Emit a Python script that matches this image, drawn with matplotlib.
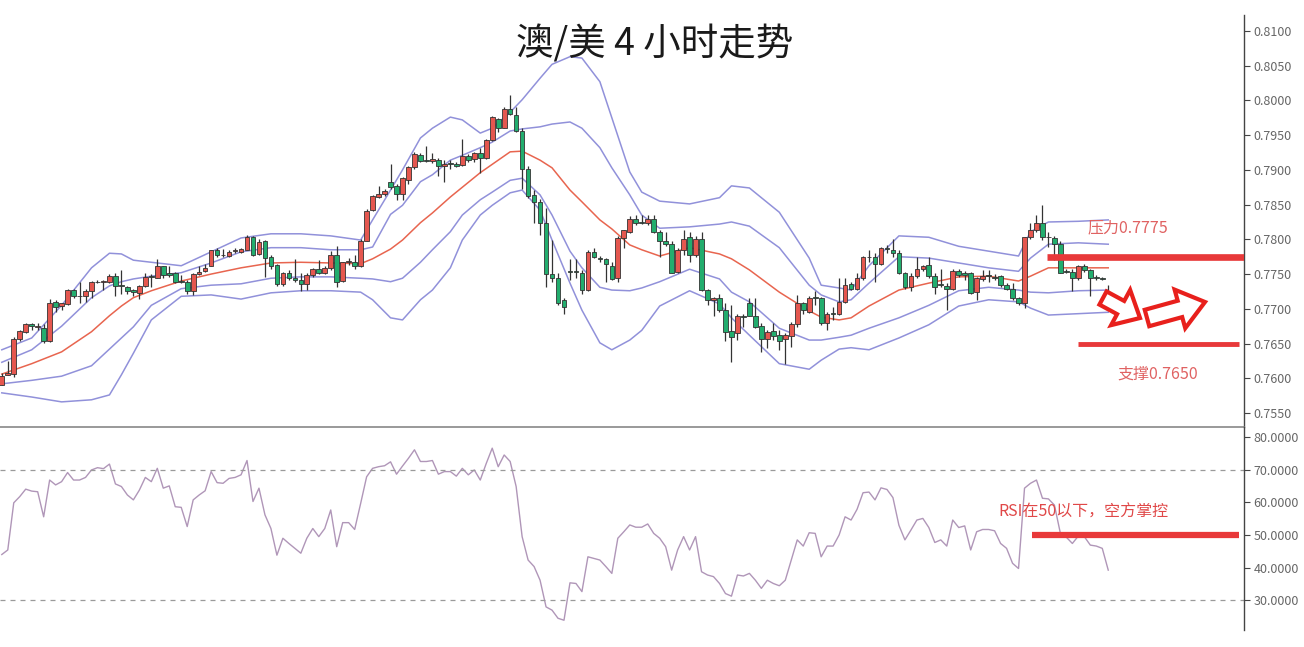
import numpy as np
import matplotlib
matplotlib.use("Agg")
import matplotlib.pyplot as plt
from matplotlib.patches import FancyArrow

plt.rcParams['font.family'] = ['Noto Sans CJK SC', 'DejaVu Sans']

# 4 hour AUD/USD candles
opens = [
    0.7591, 0.7605, 0.7606, 0.7657, 0.7667, 0.7678, 0.7674, 0.7673, 0.7654, 0.7710,
    0.7704, 0.7707, 0.7727, 0.7719, 0.7718, 0.7725, 0.7738, 0.7739, 0.7739, 0.7747,
    0.7734, 0.7731, 0.7727, 0.7723, 0.7733, 0.7747, 0.7745, 0.7761, 0.7751, 0.7751,
    0.7740, 0.7739, 0.7725, 0.7750, 0.7754, 0.7762, 0.7784, 0.7777, 0.7776, 0.7783,
    0.7782, 0.7785, 0.7804, 0.7779, 0.7797, 0.7775, 0.7763, 0.7735, 0.7752, 0.7744,
    0.7741, 0.7736, 0.7748, 0.7758, 0.7751, 0.7759, 0.7777, 0.7740, 0.7768, 0.7768,
    0.7761, 0.7798, 0.7842, 0.7861, 0.7865, 0.7883, 0.7877, 0.7866, 0.7885, 0.7904,
    0.7922, 0.7914, 0.7913, 0.7914, 0.7905, 0.7910, 0.7909, 0.7907, 0.7920, 0.7915,
    0.7924, 0.7917, 0.7943, 0.7973, 0.7961, 0.7987, 0.7979, 0.7956, 0.7902, 0.7864,
    0.7854, 0.7824, 0.7750, 0.7745, 0.7713, 0.7754, 0.7754, 0.7752, 0.7727, 0.7782,
    0.7773, 0.7771, 0.7762, 0.7744, 0.7802, 0.7810, 0.7829, 0.7825, 0.7823, 0.7830,
    0.7811, 0.7797, 0.7793, 0.7753, 0.7784, 0.7803, 0.7777, 0.7800, 0.7727, 0.7713,
    0.7715, 0.7698, 0.7668, 0.7665, 0.7689, 0.7708, 0.7690, 0.7675, 0.7657, 0.7668,
    0.7662, 0.7656, 0.7661, 0.7678, 0.7708, 0.7696, 0.7717, 0.7715, 0.7679, 0.7694,
    0.7693, 0.7710, 0.7736, 0.7729, 0.7744, 0.7775, 0.7774, 0.7764, 0.7787, 0.7785,
    0.7780, 0.7752, 0.7732, 0.7747, 0.7757, 0.7763, 0.7747, 0.7735, 0.7733, 0.7728,
    0.7755, 0.7751, 0.7751, 0.7724, 0.7743, 0.7748, 0.7746, 0.7747, 0.7734, 0.7728,
    0.7715, 0.7708, 0.7803, 0.7813, 0.7823, 0.7804, 0.7802, 0.7794, 0.7754, 0.7753,
    0.7744, 0.7761, 0.7756, 0.7746, 0.7744, 0.7723]
highs = [
    0.7607, 0.7625, 0.7659, 0.7669, 0.7679, 0.7679, 0.7679, 0.7678, 0.7714, 0.7713,
    0.7709, 0.7729, 0.7729, 0.7738, 0.7729, 0.7740, 0.7741, 0.7741, 0.7750, 0.7752,
    0.7756, 0.7733, 0.7729, 0.7734, 0.7752, 0.7750, 0.7771, 0.7762, 0.7761, 0.7753,
    0.7749, 0.7741, 0.7752, 0.7762, 0.7764, 0.7785, 0.7787, 0.7786, 0.7785, 0.7787,
    0.7788, 0.7806, 0.7805, 0.7800, 0.7799, 0.7777, 0.7765, 0.7753, 0.7756, 0.7771,
    0.7751, 0.7752, 0.7759, 0.7770, 0.7761, 0.7783, 0.7791, 0.7768, 0.7773, 0.7777,
    0.7800, 0.7843, 0.7864, 0.7877, 0.7872, 0.7908, 0.7880, 0.7890, 0.7906, 0.7926,
    0.7924, 0.7934, 0.7924, 0.7917, 0.7914, 0.7914, 0.7912, 0.7944, 0.7923, 0.7926,
    0.7932, 0.7944, 0.7978, 0.7974, 0.7990, 0.8008, 0.7991, 0.7960, 0.7906, 0.7871,
    0.7858, 0.7845, 0.7799, 0.7752, 0.7715, 0.7771, 0.7771, 0.7756, 0.7785, 0.7787,
    0.7776, 0.7773, 0.7768, 0.7805, 0.7814, 0.7833, 0.7835, 0.7835, 0.7835, 0.7835,
    0.7813, 0.7811, 0.7797, 0.7787, 0.7813, 0.7810, 0.7805, 0.7811, 0.7729, 0.7717,
    0.7722, 0.7708, 0.7706, 0.7693, 0.7693, 0.7715, 0.7715, 0.7679, 0.7669, 0.7679,
    0.7669, 0.7665, 0.7681, 0.7720, 0.7710, 0.7718, 0.7725, 0.7717, 0.7696, 0.7703,
    0.7744, 0.7744, 0.7739, 0.7751, 0.7776, 0.7785, 0.7780, 0.7789, 0.7792, 0.7801,
    0.7785, 0.7753, 0.7751, 0.7775, 0.7763, 0.7775, 0.7751, 0.7758, 0.7737, 0.7757,
    0.7758, 0.7755, 0.7753, 0.7746, 0.7756, 0.7756, 0.7750, 0.7749, 0.7737, 0.7737,
    0.7717, 0.7804, 0.7824, 0.7835, 0.7849, 0.7811, 0.7805, 0.7797, 0.7758, 0.7757,
    0.7763, 0.7764, 0.7758, 0.7749, 0.7746, 0.7734]
lows = [
    0.7590, 0.7604, 0.7602, 0.7654, 0.7665, 0.7669, 0.7669, 0.7651, 0.7652, 0.7695,
    0.7699, 0.7705, 0.7716, 0.7708, 0.7710, 0.7715, 0.7737, 0.7727, 0.7737, 0.7719,
    0.7721, 0.7722, 0.7719, 0.7714, 0.7731, 0.7732, 0.7744, 0.7745, 0.7746, 0.7737,
    0.7737, 0.7721, 0.7720, 0.7749, 0.7753, 0.7761, 0.7774, 0.7775, 0.7775, 0.7780,
    0.7781, 0.7784, 0.7776, 0.7777, 0.7746, 0.7758, 0.7733, 0.7733, 0.7742, 0.7739,
    0.7725, 0.7727, 0.7746, 0.7750, 0.7750, 0.7756, 0.7732, 0.7739, 0.7763, 0.7758,
    0.7760, 0.7797, 0.7841, 0.7860, 0.7863, 0.7872, 0.7857, 0.7857, 0.7880, 0.7902,
    0.7912, 0.7911, 0.7910, 0.7891, 0.7882, 0.7902, 0.7904, 0.7906, 0.7912, 0.7912,
    0.7896, 0.7915, 0.7942, 0.7955, 0.7960, 0.7979, 0.7954, 0.7873, 0.7860, 0.7823,
    0.7806, 0.7732, 0.7739, 0.7705, 0.7693, 0.7741, 0.7744, 0.7722, 0.7725, 0.7773,
    0.7767, 0.7738, 0.7741, 0.7738, 0.7787, 0.7809, 0.7821, 0.7822, 0.7821, 0.7809,
    0.7775, 0.7790, 0.7751, 0.7751, 0.7777, 0.7768, 0.7775, 0.7725, 0.7705, 0.7689,
    0.7696, 0.7653, 0.7624, 0.7655, 0.7674, 0.7689, 0.7672, 0.7638, 0.7643, 0.7655,
    0.7641, 0.7621, 0.7645, 0.7674, 0.7693, 0.7694, 0.7705, 0.7677, 0.7669, 0.7684,
    0.7691, 0.7708, 0.7727, 0.7727, 0.7741, 0.7768, 0.7739, 0.7763, 0.7780, 0.7775,
    0.7750, 0.7729, 0.7726, 0.7745, 0.7755, 0.7745, 0.7722, 0.7732, 0.7698, 0.7727,
    0.7746, 0.7741, 0.7721, 0.7713, 0.7740, 0.7739, 0.7742, 0.7732, 0.7727, 0.7713,
    0.7706, 0.7701, 0.7801, 0.7811, 0.7799, 0.7789, 0.7770, 0.7751, 0.7751, 0.7726,
    0.7741, 0.7753, 0.7718, 0.7742, 0.7741, 0.7705]
closes = [
    0.7603, 0.7607, 0.7656, 0.7668, 0.7678, 0.7675, 0.7675, 0.7654, 0.7709, 0.7703,
    0.7708, 0.7727, 0.7719, 0.7718, 0.7726, 0.7739, 0.7739, 0.7740, 0.7747, 0.7733,
    0.7733, 0.7726, 0.7724, 0.7733, 0.7746, 0.7746, 0.7761, 0.7748, 0.7749, 0.7739,
    0.7739, 0.7725, 0.7750, 0.7753, 0.7759, 0.7784, 0.7777, 0.7777, 0.7782, 0.7784,
    0.7786, 0.7804, 0.7778, 0.7796, 0.7773, 0.7762, 0.7735, 0.7752, 0.7744, 0.7741,
    0.7736, 0.7748, 0.7757, 0.7751, 0.7759, 0.7777, 0.7739, 0.7767, 0.7768, 0.7761,
    0.7798, 0.7841, 0.7862, 0.7865, 0.7870, 0.7876, 0.7866, 0.7888, 0.7904, 0.7923,
    0.7913, 0.7913, 0.7915, 0.7905, 0.7908, 0.7909, 0.7906, 0.7920, 0.7914, 0.7924,
    0.7917, 0.7943, 0.7976, 0.7961, 0.7988, 0.7980, 0.7956, 0.7902, 0.7862, 0.7854,
    0.7824, 0.7750, 0.7744, 0.7708, 0.7703, 0.7753, 0.7753, 0.7727, 0.7782, 0.7775,
    0.7772, 0.7764, 0.7743, 0.7802, 0.7813, 0.7829, 0.7823, 0.7824, 0.7829, 0.7811,
    0.7797, 0.7793, 0.7752, 0.7784, 0.7801, 0.7778, 0.7800, 0.7727, 0.7713, 0.7716,
    0.7698, 0.7667, 0.7660, 0.7690, 0.7688, 0.7690, 0.7674, 0.7657, 0.7666, 0.7661,
    0.7654, 0.7662, 0.7678, 0.7708, 0.7698, 0.7716, 0.7716, 0.7679, 0.7693, 0.7693,
    0.7710, 0.7734, 0.7729, 0.7744, 0.7774, 0.7774, 0.7764, 0.7787, 0.7786, 0.7780,
    0.7752, 0.7732, 0.7747, 0.7757, 0.7761, 0.7747, 0.7732, 0.7734, 0.7728, 0.7755,
    0.7749, 0.7749, 0.7723, 0.7744, 0.7747, 0.7747, 0.7745, 0.7734, 0.7728, 0.7715,
    0.7708, 0.7803, 0.7813, 0.7823, 0.7804, 0.7803, 0.7794, 0.7752, 0.7753, 0.7744,
    0.7761, 0.7756, 0.7744, 0.7745, 0.7743, 0.7713]

# Bollinger lines, read at these candle positions
band_idx = [
    0, 5, 10, 15, 18, 20, 22, 25, 30, 35,
    40, 45, 50, 55, 60, 62, 65, 67, 70, 72,
    75, 77, 80, 82, 85, 87, 90, 92, 95, 97,
    100, 102, 105, 107, 110, 115, 120, 122, 125, 130,
    135, 137, 140, 142, 145, 150, 155, 160, 165, 170,
    172, 175, 180, 185]
band_outer_up = [
    0.7641, 0.7658, 0.7705, 0.7759, 0.7780, 0.7779, 0.7770, 0.7767, 0.7762, 0.7782,
    0.7802, 0.7808, 0.7808, 0.7805, 0.7799, 0.7828, 0.7871, 0.7900, 0.7946, 0.7960,
    0.7976, 0.7972, 0.7953, 0.7960, 0.7983, 0.8001, 0.8032, 0.8052, 0.8063, 0.8061,
    0.8027, 0.7975, 0.7897, 0.7868, 0.7855, 0.7851, 0.7860, 0.7877, 0.7874, 0.7839,
    0.7773, 0.7734, 0.7730, 0.7727, 0.7762, 0.7805, 0.7803, 0.7790, 0.7783, 0.7776,
    0.7811, 0.7825, 0.7826, 0.7828]
band_inner_up = [
    0.7623, 0.7641, 0.7675, 0.7716, 0.7733, 0.7739, 0.7743, 0.7747, 0.7752, 0.7766,
    0.7782, 0.7788, 0.7788, 0.7785, 0.7785, 0.7789, 0.7836, 0.7849, 0.7883, 0.7893,
    0.7914, 0.7921, 0.7932, 0.7940, 0.7956, 0.7959, 0.7962, 0.7966, 0.7969, 0.7960,
    0.7932, 0.7903, 0.7864, 0.7835, 0.7816, 0.7818, 0.7822, 0.7825, 0.7819, 0.7788,
    0.7734, 0.7720, 0.7710, 0.7713, 0.7737, 0.7775, 0.7773, 0.7766, 0.7759, 0.7754,
    0.7773, 0.7793, 0.7795, 0.7793]
band_mid = [
    0.7606, 0.7621, 0.7638, 0.7667, 0.7690, 0.7704, 0.7716, 0.7726, 0.7740, 0.7750,
    0.7759, 0.7766, 0.7767, 0.7766, 0.7765, 0.7772, 0.7786, 0.7799, 0.7824, 0.7838,
    0.7861, 0.7875, 0.7896, 0.7908, 0.7926, 0.7927, 0.7914, 0.7903, 0.7871, 0.7854,
    0.7828, 0.7815, 0.7792, 0.7785, 0.7776, 0.7788, 0.7779, 0.7772, 0.7756, 0.7724,
    0.7697, 0.7688, 0.7684, 0.7687, 0.7704, 0.7727, 0.7737, 0.7746, 0.7747, 0.7740,
    0.7747, 0.7759, 0.7759, 0.7759]
band_inner_low = [
    0.7592, 0.7597, 0.7603, 0.7618, 0.7642, 0.7658, 0.7674, 0.7705, 0.7729, 0.7734,
    0.7736, 0.7744, 0.7746, 0.7746, 0.7744, 0.7743, 0.7739, 0.7744, 0.7767, 0.7785,
    0.7811, 0.7835, 0.7857, 0.7868, 0.7885, 0.7888, 0.7864, 0.7835, 0.7783, 0.7759,
    0.7731, 0.7727, 0.7726, 0.7730, 0.7739, 0.7757, 0.7743, 0.7724, 0.7710, 0.7672,
    0.7655, 0.7655, 0.7659, 0.7662, 0.7672, 0.7687, 0.7705, 0.7726, 0.7731, 0.7727,
    0.7724, 0.7723, 0.7726, 0.7727]
band_outer_low = [
    0.7579, 0.7573, 0.7566, 0.7569, 0.7576, 0.7605, 0.7636, 0.7684, 0.7718, 0.7720,
    0.7714, 0.7723, 0.7726, 0.7726, 0.7724, 0.7713, 0.7687, 0.7684, 0.7713, 0.7727,
    0.7759, 0.7799, 0.7835, 0.7849, 0.7867, 0.7871, 0.7842, 0.7799, 0.7737, 0.7698,
    0.7651, 0.7641, 0.7655, 0.7669, 0.7704, 0.7726, 0.7707, 0.7687, 0.7662, 0.7621,
    0.7613, 0.7626, 0.7642, 0.7644, 0.7641, 0.7658, 0.7677, 0.7704, 0.7713, 0.7710,
    0.7701, 0.7691, 0.7693, 0.7695]

# RSI, one value per candle
rsi = [
    44.0, 45.4, 59.9, 61.8, 64.1, 63.5, 63.3, 55.6, 66.9, 65.4,
    66.4, 69.2, 66.9, 66.9, 67.7, 70.0, 70.7, 70.4, 71.8, 65.7,
    64.9, 62.3, 60.8, 63.8, 67.7, 66.4, 70.5, 64.4, 65.1, 58.7,
    58.5, 52.6, 60.8, 62.3, 63.6, 69.5, 66.1, 65.9, 67.4, 67.7,
    68.5, 72.9, 60.3, 64.4, 56.2, 52.0, 43.8, 49.0, 47.4, 45.9,
    44.4, 49.0, 52.0, 49.5, 52.0, 57.7, 46.4, 53.8, 53.8, 51.7,
    59.7, 67.9, 70.5, 71.0, 71.3, 72.5, 68.7, 71.2, 73.6, 76.2,
    72.6, 72.6, 72.9, 68.7, 69.5, 69.5, 68.1, 70.5, 68.5, 70.0,
    66.9, 72.0, 76.7, 71.0, 74.6, 72.6, 64.9, 49.5, 42.3, 40.3,
    36.1, 27.9, 26.9, 24.4, 23.8, 35.3, 35.1, 32.6, 43.3, 42.8,
    42.3, 40.3, 38.2, 49.0, 51.0, 53.1, 52.4, 52.4, 53.4, 50.5,
    49.0, 46.4, 39.2, 45.4, 49.5, 45.4, 49.5, 38.7, 37.7, 37.2,
    35.1, 32.0, 31.2, 37.7, 37.4, 38.2, 36.1, 33.6, 36.1, 35.1,
    34.4, 36.1, 42.3, 48.5, 46.6, 50.7, 50.5, 43.3, 46.6, 46.6,
    50.0, 55.6, 54.6, 57.9, 63.0, 63.2, 60.8, 64.5, 64.0, 61.5,
    53.0, 48.5, 51.5, 54.6, 55.1, 52.3, 47.7, 48.5, 46.6, 54.6,
    52.3, 52.8, 45.4, 51.0, 51.7, 51.7, 51.3, 47.4, 45.9, 41.3,
    39.7, 64.4, 65.9, 66.9, 61.3, 61.1, 59.2, 50.5, 49.3, 47.4,
    49.7, 49.5, 46.9, 46.6, 45.9, 39.2]

resistance = 0.7775
support = 0.7650
rsi_level = 50

price_ticks = np.arange(0.7550, 0.81001, 0.005)
rsi_ticks = [30, 40, 50, 60, 70, 80]

up_col = '#e5574f'
down_col = '#22ad6e'
band_col = '#8585d6'
mid_col = '#e8654f'
mark_red = '#e8393a'
text_red = '#e06262'

fig = plt.figure(figsize=(13.04, 6.47), dpi=100)
ax = fig.add_axes([0.0, 0.3400, 0.9540, 0.6368])
ax2 = fig.add_axes([0.0, 0.0263, 0.9540, 0.3137])

x = np.arange(len(closes))
o = np.array(opens)
c = np.array(closes)

# bands
for line in (band_outer_up, band_inner_up, band_inner_low, band_outer_low):
    ax.plot(band_idx, line, color=band_col, lw=1.1, alpha=0.9, zorder=1)
ax.plot(band_idx, band_mid, color=mid_col, lw=1.1, zorder=1)

# candles
ax.vlines(x, lows, highs, color='#333333', lw=0.9, zorder=2)
body_bottom = np.minimum(o, c)
body_h = np.maximum(np.abs(c - o), 0.00003)
cols = [up_col if cc >= oo else down_col for oo, cc in zip(o, c)]
ax.bar(x, body_h, bottom=body_bottom, width=0.78, color=cols,
       edgecolor='#333333', linewidth=0.6, zorder=3)

# support / resistance marks
ax.hlines(resistance, 174.8, 207.7, color=mark_red, lw=4.8, zorder=4)
ax.hlines(support, 180.0, 206.8, color=mark_red, lw=3.5, zorder=4)
ax.text(181.6, 0.78163, '压力0.7775', color=text_red, fontsize=11.5,
        va='center', ha='left')
ax.text(186.6, 0.76060, '支撑0.7650', color=text_red, fontsize=11.5,
        va='center', ha='left')

ax.set_xlim(-0.3, 207.7)
ax.set_ylim(0.75298, 0.81230)
ax.set_yticks(price_ticks)
ax.set_yticklabels(['%.4f' % t for t in price_ticks])

# RSI panel
ax2.plot(x, rsi, color='#b096b8', lw=1.0)
ax2.axhline(70, color='#9a9a9a', lw=0.9, ls=(0, (4, 4)))
ax2.axhline(30, color='#9a9a9a', lw=0.9, ls=(0, (4, 4)))
ax2.hlines(rsi_level, 172.3, 206.8, color=mark_red, lw=4.5, zorder=4)
ax2.text(166.6, 57.1, 'RSI在50以下，空方掌控', color='#e04848',
         fontsize=11.5, va='center', ha='left')
ax2.set_xlim(-0.3, 207.7)
ax2.set_ylim(20.8, 83.2)
ax2.set_yticks(rsi_ticks)
ax2.set_yticklabels(['%.4f' % t for t in rsi_ticks])

for a in (ax, ax2):
    a.yaxis.tick_right()
    a.set_xticks([])
    a.tick_params(axis='y', direction='out', length=4, width=0.8,
                  color='#444444', labelcolor='#666666', labelsize=9, pad=3)
    for s in ('left', 'top', 'bottom'):
        a.spines[s].set_visible(False)
    a.spines['right'].set_color('#444444')
    a.spines['right'].set_linewidth(1.0)
    a.set_facecolor('none')

ax.spines['bottom'].set_visible(True)
ax.spines['bottom'].set_color('#888888')
ax.spines['bottom'].set_linewidth(1.2)

# hollow arrows
arrow_kw = dict(length_includes_head=True, transform=fig.dpi_scale_trans,
                fc='white', ec='#e8201c', lw=3.0, zorder=10)
fig.add_artist(FancyArrow(11.03, 3.49, 0.37, -0.20, width=0.15,
                          head_width=0.40, head_length=0.22, **arrow_kw))
fig.add_artist(FancyArrow(11.47, 3.29, 0.58, 0.16, width=0.17,
                          head_width=0.40, head_length=0.26, **arrow_kw))

fig.text(0.502, 0.930, '澳/美 4 小时走势', ha='center', va='center',
         fontsize=27, color='#1a1a1a')

fig.savefig('out.png', dpi=100, facecolor='white')
